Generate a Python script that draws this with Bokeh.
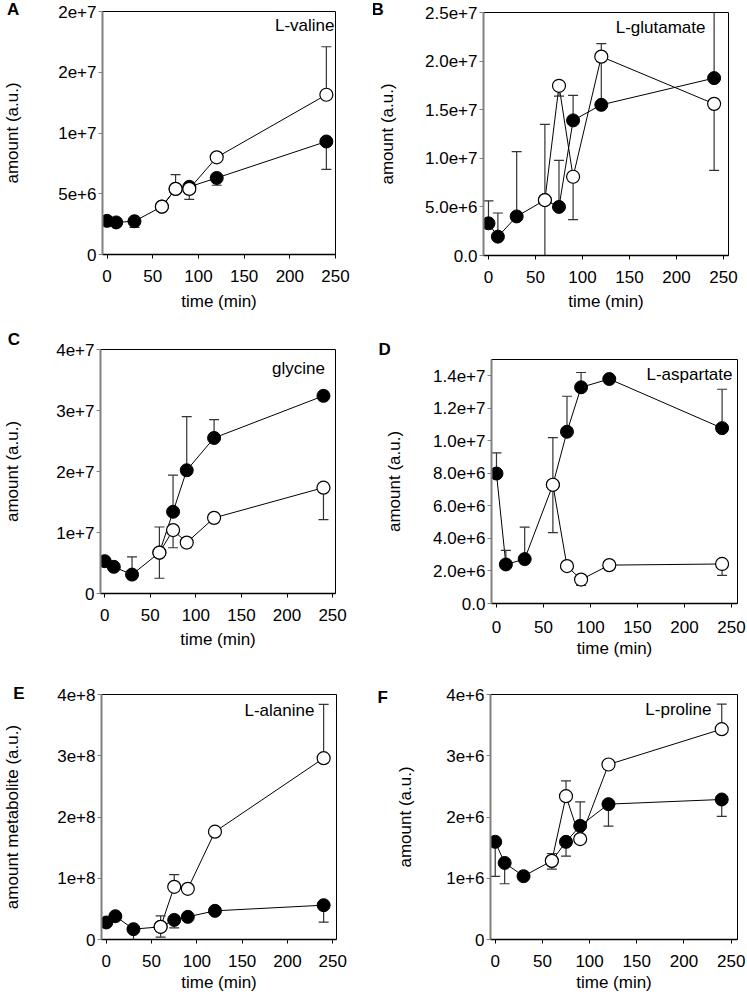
import math
from bokeh.plotting import figure
from bokeh.layouts import row, column
from bokeh.models import FixedTicker, Label, Range1d
from bokeh.embed import file_html
from bokeh.resources import INLINE

# ---------------- data ----------------
time_all = [0, 10, 30, 60, 75, 90, 120, 240]
time_open = [60, 75, 90, 120, 240]
x_ticks = [0, 50, 100, 150, 200, 250]

# A: L-valine
valine_filled = [2.77e6, 2.64e6, 2.74e6, 3.94e6, 5.4e6, 5.57e6, 6.3e6, 9.3e6]
valine_filled_up = [0, 0, 0, 0, 0, 0, 0, 0]
valine_filled_dn = [0.3e6, 0, 0.5e6, 0, 0, 0, 0.6e6, 2.3e6]
valine_open = [3.94e6, 5.4e6, 5.4e6, 8.0e6, 13.15e6]
valine_open_up = [0, 1.18e6, 0, 0, 3.95e6]
valine_open_dn = [0, 0, 0.86e6, 0, 0]
valine_yticks = [0, 5000000, 10000000, 15000000, 20000000]
valine_ylabels = ["0", "5e+6", "1e+7", "2e+7", "2e+7"]

# B: L-glutamate
glutamate_filled = [3.31e6, 1.94e6, 4.02e6, 5.7e6, 5.0e6, 13.9e6, 15.5e6, 18.25e6]
glutamate_filled_up = [2.32e6, 2.43e6, 6.66e6, 0, 4.78e6, 2.57e6, 4.6e6, 8.0e6]
glutamate_filled_dn = [0, 0, 0, 0, 0, 0, 0, 0]
glutamate_open = [5.7e6, 17.46e6, 8.1e6, 20.46e6, 15.6e6]
glutamate_open_up = [7.8e6, 0, 0, 1.34e6, 0]
glutamate_open_dn = [7.8e6, 1.06e6, 4.4e6, 0, 6.85e6]
glutamate_yticks = [0, 5000000, 10000000, 15000000, 20000000, 25000000]
glutamate_ylabels = ["0.0", "5.0e+6", "1.0e+7", "1.5e+7", "2.0e+7", "2.5e+7"]

# C: glycine
glycine_filled = [5.3e6, 4.37e6, 3.1e6, 6.7e6, 13.4e6, 20.2e6, 25.5e6, 32.4e6]
glycine_filled_up = [0, 0, 2.9e6, 0, 6.0e6, 8.8e6, 3.0e6, 0.3e6]
glycine_filled_dn = [0, 0, 0, 0, 0, 0, 0, 0]
glycine_open = [6.7e6, 10.4e6, 8.35e6, 12.4e6, 17.35e6]
glycine_open_up = [4.2e6, 0, 0, 0, 0]
glycine_open_dn = [4.2e6, 2.9e6, 0.85e6, 0, 5.25e6]
glycine_yticks = [0, 10000000, 20000000, 30000000, 40000000]
glycine_ylabels = ["0", "1e+7", "2e+7", "3e+7", "4e+7"]

# D: L-aspartate
aspartate_filled = [7.99e6, 2.4e6, 2.73e6, 7.3e6, 10.56e6, 13.29e6, 13.8e6, 10.78e6]
aspartate_filled_up = [1.27e6, 0.86e6, 1.96e6, 0, 2.18e6, 0.91e6, 0.15e6, 2.39e6]
aspartate_filled_dn = [0, 0, 0, 0, 0, 0, 0, 0]
aspartate_open = [7.3e6, 2.3e6, 1.47e6, 2.36e6, 2.43e6]
aspartate_open_up = [2.9e6, 0, 0, 0, 0]
aspartate_open_dn = [2.94e6, 0, 0.35e6, 0, 0.7e6]
aspartate_yticks = [0, 2000000, 4000000, 6000000, 8000000, 10000000, 12000000, 14000000]
aspartate_ylabels = ["0.0", "2.0e+6", "4.0e+6", "6.0e+6", "8.0e+6", "1.0e+7", "1.2e+7", "1.4e+7"]

# E: L-alanine
alanine_filled = [2.78e7, 3.8e7, 1.69e7, 2.07e7, 3.2e7, 3.7e7, 4.68e7, 5.6e7]
alanine_filled_up = [0, 0, 0, 0, 0, 0, 0, 0]
alanine_filled_dn = [0, 0, 1.7e7, 0, 1.3e7, 0, 0, 2.77e7]
alanine_open = [2.07e7, 8.6e7, 8.27e7, 17.6e7, 29.6e7]
alanine_open_up = [1.8e7, 2.0e7, 0, 0, 8.8e7]
alanine_open_dn = [1.67e7, 0, 0, 0, 0]
alanine_yticks = [0, 100000000, 200000000, 300000000, 400000000]
alanine_ylabels = ["0", "1e+8", "2e+8", "3e+8", "4e+8"]

# F: L-proline
proline_filled = [1.595e6, 1.25e6, 1.034e6, 1.284e6, 1.595e6, 1.856e6, 2.21e6, 2.286e6]
proline_filled_up = [0, 0, 0, 0, 0, 0.39e6, 0, 0]
proline_filled_dn = [0.565e6, 0.34e6, 0, 0, 0.235e6, 0, 0.36e6, 0.276e6]
proline_open = [1.284e6, 2.34e6, 1.64e6, 2.857e6, 3.434e6]
proline_open_up = [0.12e6, 0.25e6, 0, 0, 0.41e6]
proline_open_dn = [0.134e6, 0, 0, 0, 0]
proline_yticks = [0, 1000000, 2000000, 3000000, 4000000]
proline_ylabels = ["0", "1e+6", "2e+6", "3e+6", "4e+6"]

x_title = "time (min)"
y_title = "amount (a.u.)"
y_title_e = "amount metabolite (a.u.)"

FONT = "Liberation Sans"
FS = "17px"


def err_segments(xs, vals, ups, dns):
    x, y0, y1 = [], [], []
    for t, v, u, d in zip(xs, vals, ups, dns):
        if u > 0:
            x.append(t); y0.append(v); y1.append(v + u)
        if d > 0:
            x.append(t); y0.append(v); y1.append(v - d)
    return x, y0, y1


def build(L, letter, name, ytitle, filled, f_up, f_dn, opn, o_up, o_dn, yticks, ylabels):
    fw = L["w"] - L["bl"] - L["br"]
    fh = L["h"] - L["bt"] - L["bb"]
    x0, x1 = L["xr"]
    y0, y1 = L["yr"]
    sx = (x1 - x0) / fw
    sy = (y1 - y0) / fh
    p = figure(width=L["w"], height=L["h"], x_range=Range1d(x0, x1), y_range=Range1d(y0, y1),
               output_backend="svg", toolbar_location=None,
               min_border_left=L["bl"], min_border_right=L["br"],
               min_border_top=L["bt"], min_border_bottom=L["bb"])
    p.frame_align = False
    p.grid.visible = False
    p.outline_line_color = "black"
    p.outline_line_width = 1
    p.background_fill_color = "white"
    p.border_fill_color = "white"

    # lines
    p.line(time_all, filled, line_color="black", line_width=1)
    p.line(time_open, opn, line_color="black", line_width=1)

    # error bars
    for xs, vals, ups, dns in ((time_all, filled, f_up, f_dn), (time_open, opn, o_up, o_dn)):
        ex, ey0, ey1 = err_segments(xs, vals, ups, dns)
        if ex:
            p.segment(x0=ex, y0=ey0, x1=ex, y1=ey1, line_color="#333333", line_width=1.2)
            p.scatter(ex, ey1, marker="dash", size=10, line_color="#333333", line_width=1.2)

    # markers
    p.scatter(time_all, filled, marker="circle", size=13, fill_color="black", line_color="black")
    p.scatter(time_open, opn, marker="circle", size=13, fill_color="white", line_color="black",
              line_width=1.2)

    # axes
    p.xaxis.ticker = FixedTicker(ticks=x_ticks)
    p.yaxis.ticker = FixedTicker(ticks=yticks)
    p.yaxis.major_label_overrides = {t: s for t, s in zip(yticks, ylabels)}
    for ax in (p.xaxis[0], p.yaxis[0]):
        ax.major_label_text_font = FONT
        ax.major_label_text_font_size = FS
        ax.major_label_text_color = "black"
        ax.major_tick_in = 0
        ax.major_tick_out = 4
        ax.minor_tick_line_color = None
        ax.axis_label_text_font = FONT
        ax.axis_label_text_font_size = FS
        ax.axis_label_text_font_style = "normal"
        ax.axis_label_text_color = "black"
    p.yaxis.axis_line_color = "#808080"
    p.yaxis.axis_line_width = 2
    p.yaxis.major_tick_line_color = "#808080"
    p.yaxis.major_label_standoff = 2
    p.yaxis.axis_label = ytitle
    p.yaxis.axis_label_standoff = L["yt_s"]
    p.xaxis.axis_line_color = "black"
    p.xaxis.axis_line_width = 1.3
    p.xaxis.major_tick_line_color = "black"
    p.xaxis.major_label_standoff = L["xl_s"]
    p.xaxis.axis_label = x_title
    p.xaxis.axis_label_standoff = L["xt_s"]

    # panel letter: put in a side panel with spare room so it is not clipped to the frame
    p.add_layout(Label(x=x0 - (L["bl"] - L["let_x"]) * sx, y=y1 + (L["bt"] - L["let_y"]) * sy,
                       text=letter, text_align="left", text_baseline="middle", text_font=FONT,
                       text_font_size="17px", text_font_style="bold", text_color="black"),
                 L["let_side"])
    # metabolite name
    p.add_layout(Label(x=x1 - (L["w"] - L["br"] - L["nm_x"]) * sx,
                       y=y1 - (L["nm_y"] - L["bt"]) * sy, text=name,
                       text_align="right", text_baseline="middle", text_font=FONT,
                       text_font_size=FS, text_color="black"))
    return p


# layout: figure size, borders (frame position), ranges, text anchors in figure pixels
LA = dict(w=373, h=330, bl=96, br=38, bt=11, bb=76, xr=(-5, 250), yr=(0, 2e7), xl_s=11, xt_s=7,
          yt_s=33, let_x=-2, let_y=9, let_side="right", nm_x=334, nm_y=25)
LB = dict(w=374, h=330, bl=110, br=19, bt=12, bb=75, xr=(-5.3, 255.3), yr=(0, 2.5e7), xl_s=11, xt_s=6,
          yt_s=25, let_x=-2, let_y=9, let_side="right", nm_x=332, nm_y=27)
LC = dict(w=373, h=330, bl=92, br=38, bt=19, bb=67, xr=(-4.6, 253.2), yr=(0, 4e7), xl_s=11, xt_s=6,
          yt_s=31, let_x=-4, let_y=9, let_side="right", nm_x=324, nm_y=38)
LD = dict(w=374, h=330, bl=118, br=10, bt=29, bb=57, xr=(-5.3, 256.4), yr=(0, 1.5e7), xl_s=13, xt_s=3,
          yt_s=26, let_x=5, let_y=19, let_side="above", nm_x=359, nm_y=44)
LE = dict(w=373, h=335, bl=91, br=37, bt=34, bb=56, xr=(-5.3, 254.2), yr=(0, 4e8), xl_s=11, xt_s=3,
          yt_s=32, let_x=-1, let_y=33, let_side="right", nm_x=313, nm_y=50)
LF = dict(w=374, h=335, bl=117, br=10, bt=34, bb=56, xr=(-5, 256.7), yr=(0, 4e6), xl_s=11, xt_s=3,
          yt_s=28, let_x=4, let_y=37, let_side="above", nm_x=338, nm_y=49)

pA = build(LA, "A", "L-valine", y_title, valine_filled, valine_filled_up, valine_filled_dn,
           valine_open, valine_open_up, valine_open_dn, valine_yticks, valine_ylabels)
pB = build(LB, "B", "L-glutamate", y_title, glutamate_filled, glutamate_filled_up, glutamate_filled_dn,
           glutamate_open, glutamate_open_up, glutamate_open_dn, glutamate_yticks, glutamate_ylabels)
pC = build(LC, "C", "glycine", y_title, glycine_filled, glycine_filled_up, glycine_filled_dn,
           glycine_open, glycine_open_up, glycine_open_dn, glycine_yticks, glycine_ylabels)
pD = build(LD, "D", "L-aspartate", y_title, aspartate_filled, aspartate_filled_up, aspartate_filled_dn,
           aspartate_open, aspartate_open_up, aspartate_open_dn, aspartate_yticks, aspartate_ylabels)
pE = build(LE, "E", "L-alanine", y_title_e, alanine_filled, alanine_filled_up, alanine_filled_dn,
           alanine_open, alanine_open_up, alanine_open_dn, alanine_yticks, alanine_ylabels)
pF = build(LF, "F", "L-proline", y_title, proline_filled, proline_filled_up, proline_filled_dn,
           proline_open, proline_open_up, proline_open_dn, proline_yticks, proline_ylabels)

layout = column(row(pA, pB), row(pC, pD), row(pE, pF))
open("out.html", "w").write(file_html(layout, INLINE))
